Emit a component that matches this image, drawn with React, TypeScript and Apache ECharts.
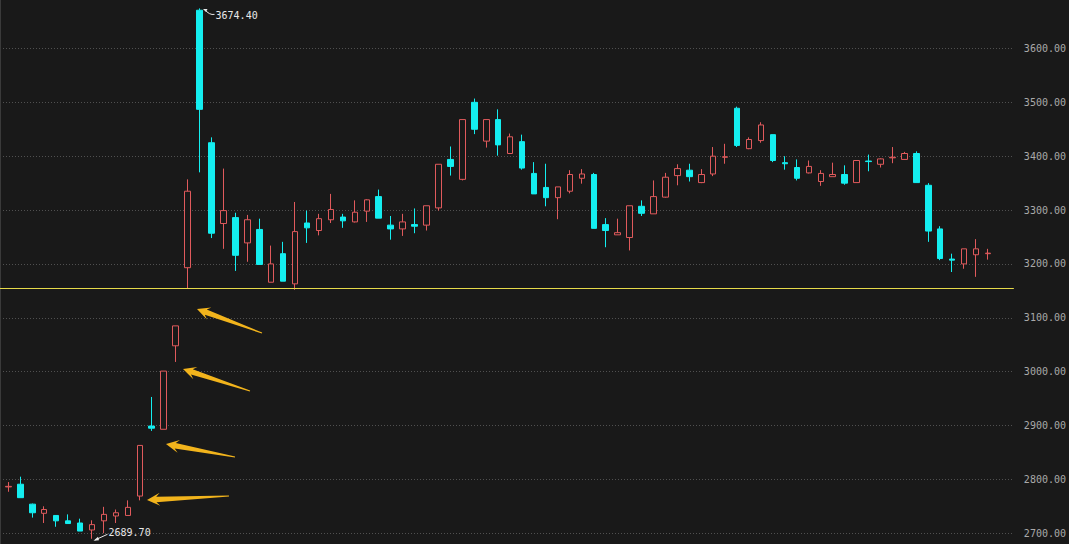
import React, { useEffect, useRef } from "react";
import * as echarts from "echarts";

// OHLC values (index order = time order)
const openValues = [
  2786, 2791, 2754, 2737, 2733, 2723, 2719, 2706, 2723, 2732,
  2733, 2769, 2899, 2893, 3048, 3193, 3671, 3425, 3275, 3286,
  3239, 3264, 3166, 3219, 3163, 3276, 3262, 3282, 3287, 3278,
  3298, 3325, 3272, 3265, 3273, 3272, 3304, 3394, 3357, 3500,
  3428, 3468, 3405, 3427, 3368, 3342, 3323, 3335, 3359, 3366,
  3273, 3254, 3249, 3307, 3293, 3324, 3364, 3374, 3351, 3367,
  3398, 3489, 3414, 3429, 3440, 3388, 3379, 3369, 3353, 3362,
  3366, 3351, 3391, 3385, 3397, 3394, 3405, 3346, 3265, 3209,
  3200, 3217, 3219,
];
const closeValues = [
  2787, 2766, 2738, 2744, 2723, 2718, 2704, 2716, 2735, 2738,
  2748, 2863, 2895, 3001, 3085, 3335, 3487, 3257, 3299, 3216,
  3282, 3199, 3200, 3168, 3260, 3267, 3284, 3301, 3280, 3296,
  3319, 3285, 3265, 3278, 3270, 3308, 3385, 3381, 3468, 3450,
  3468, 3421, 3436, 3378, 3330, 3323, 3343, 3366, 3367, 3266,
  3262, 3258, 3308, 3294, 3325, 3361, 3377, 3362, 3366, 3400,
  3399, 3420, 3431, 3458, 3392, 3386, 3359, 3381, 3368, 3366,
  3350, 3392, 3390, 3395, 3398, 3405, 3351, 3261, 3210, 3207,
  3228, 3228, 3220,
];
const lowValues = [
  2777, 2766, 2729, 2719, 2712, 2718, 2704, 2689.7, 2700, 2719,
  2733, 2761, 2890, 2893, 3018, 3155, 3370, 3248, 3228, 3187,
  3204, 3199, 3166, 3168, 3152, 3239, 3253, 3276, 3267, 3277,
  3278, 3285, 3245, 3252, 3257, 3262, 3299, 3364, 3355, 3441,
  3416, 3401, 3404, 3375, 3330, 3307, 3283, 3331, 3349, 3266,
  3231, 3254, 3225, 3289, 3293, 3323, 3346, 3353, 3350, 3363,
  3386, 3417, 3413, 3425, 3389, 3375, 3355, 3368, 3345, 3362,
  3347, 3351, 3372, 3379, 3387, 3394, 3351, 3241, 3207, 3185,
  3191, 3176, 3208,
];
const highValues = [
  2795, 2805, 2755, 2750, 2733, 2735, 2727, 2724, 2749, 2744,
  2761, 2863, 2953, 3001, 3085, 3357, 3674.4, 3435, 3377, 3295,
  3291, 3284, 3234, 3241, 3315, 3299, 3293, 3330, 3293, 3318,
  3320, 3338, 3289, 3293, 3303, 3308, 3385, 3418, 3468, 3507,
  3468, 3487, 3442, 3440, 3389, 3386, 3343, 3374, 3376, 3369,
  3285, 3284, 3308, 3318, 3355, 3369, 3385, 3386, 3376, 3417,
  3423, 3492, 3435, 3463, 3440, 3400, 3394, 3392, 3374, 3388,
  3383, 3392, 3403, 3396, 3417, 3408, 3409, 3350, 3270, 3219,
  3228, 3246, 3228,
];
const categories = openValues.map((_, i) => String(i + 1));
const gapLevel = 3155;
const yMin = 2680;
const yMax = 3690;

const BG = "#191919";
const UP = "#e05a5c";
const DOWN = "#14eef0";
const ARROW = "#f2b41c";
const FONT = '"DejaVu Sans Mono", "Liberation Mono", monospace';

// annotation arrows (tip, tail) pointing at the gaps
const gapArrows: [number, number, number, number][] = [
  [197, 309, 262, 333],
  [183, 369, 250, 391],
  [166, 444, 235, 457],
  [147, 500, 229, 496],
];

function arrowPoints(tx: number, ty: number, ex: number, ey: number) {
  const dx = ex - tx, dy = ey - ty;
  const len = Math.hypot(dx, dy);
  const ux = dx / len, uy = dy / len;
  const nx = -uy, ny = ux;
  const p = (a: number, b: number) => [tx + ux * a + nx * b, ty + uy * a + ny * b];
  const headLen = 13, headHalf = 6.5, neckHalf = 2.8, tailHalf = 0.5;
  return [
    p(0, 0),
    p(headLen, headHalf),
    p(headLen * 0.72, neckHalf),
    [ex + nx * tailHalf, ey + ny * tailHalf],
    [ex - nx * tailHalf, ey - ny * tailHalf],
    p(headLen * 0.72, -neckHalf),
    p(headLen, -headHalf),
  ];
}

export default function App() {
  const ref = useRef<HTMLDivElement>(null);
  useEffect(() => {
    document.body.style.margin = "0";
    document.body.style.background = BG;
    const chart = echarts.init(ref.current!, null, { renderer: "svg" });
    const candleData = openValues.map((o, i) => [o, closeValues[i], lowValues[i], highValues[i]]);
    chart.setOption({
      animation: false,
      backgroundColor: BG,
      grid: [
        { left: 2.4, top: 0, width: 991.6, bottom: 0 },
        { left: 0, top: 0, right: 55, bottom: 0 },
      ],
      xAxis: [
        { type: "category", gridIndex: 0, data: categories, boundaryGap: true, show: false },
        { type: "value", gridIndex: 1, min: 0, max: 1, show: false },
      ],
      yAxis: [
        { type: "value", gridIndex: 0, min: yMin, max: yMax, show: false, splitLine: { show: false } },
        {
          type: "value",
          gridIndex: 1,
          position: "right",
          min: yMin,
          max: yMax,
          splitNumber: 10,
          axisLine: { show: true, lineStyle: { color: "#3a3a3a", width: 1 } },
          axisTick: { show: false },
          axisLabel: {
            color: "#a9a9a9",
            fontFamily: FONT,
            fontSize: 10,
            margin: 10,
            formatter: (v: number) => (Math.abs(v % 100) < 1e-6 ? v.toFixed(2) : ""),
          },
          splitLine: {
            show: true,
            showMinLine: false,
            showMaxLine: false,
            lineStyle: { color: "#505050", type: [1, 2], width: 1 },
          },
        },
      ],
      series: [
        {
          type: "candlestick",
          xAxisIndex: 0,
          yAxisIndex: 0,
          data: candleData,
          barWidth: 6,
          itemStyle: {
            color: BG,
            color0: DOWN,
            borderColor: UP,
            borderColor0: DOWN,
            borderWidth: 1,
          },
          z: 3,
        },
        {
          type: "line",
          xAxisIndex: 1,
          yAxisIndex: 1,
          data: [],
          markLine: {
            silent: true,
            symbol: ["none", "none"],
            label: { show: false },
            lineStyle: { color: "#e6da4a", width: 1, type: "solid" },
            data: [{ yAxis: gapLevel }],
          },
          z: 4,
        },
      ],
    });

    const hiIdx = highValues.indexOf(Math.max(...highValues));
    const loIdx = lowValues.indexOf(Math.min(...lowValues));
    const hp = chart.convertToPixel({ seriesIndex: 0 }, [hiIdx, highValues[hiIdx]]) as number[];
    const lp = chart.convertToPixel({ seriesIndex: 0 }, [loIdx, lowValues[loIdx]]) as number[];
    const white = "#e8e8e8";

    const graphics: any[] = [];
    // high label
    graphics.push({
      type: "text",
      x: hp[0] + 16,
      y: hp[1] + 7,
      z: 10,
      style: { text: highValues[hiIdx].toFixed(2), fill: white, font: `10px ${FONT}`, align: "left", verticalAlign: "middle" },
    });
    graphics.push({
      type: "bezierCurve",
      z: 10,
      shape: { x1: hp[0] + 15, y1: hp[1] + 6, x2: hp[0] + 5, y2: hp[1] + 1, cpx1: hp[0] + 10, cpy1: hp[1] + 7 },
      style: { stroke: white, lineWidth: 1, fill: "none" },
    });
    graphics.push({
      type: "polygon",
      z: 10,
      shape: { points: [[hp[0] + 3.5, hp[1] + 0.5], [hp[0] + 8, hp[1] + 0.5], [hp[0] + 6.5, hp[1] + 3.5]] },
      style: { fill: white },
    });
    // low label
    graphics.push({
      type: "text",
      x: lp[0] + 16.5,
      y: lp[1] - 6.5,
      z: 10,
      style: { text: lowValues[loIdx].toFixed(2), fill: white, font: `10px ${FONT}`, align: "left", verticalAlign: "middle" },
    });
    graphics.push({
      type: "line",
      z: 10,
      shape: { x1: lp[0] + 15.5, y1: lp[1] - 4.5, x2: lp[0] + 3, y2: lp[1] + 1.2 },
      style: { stroke: white, lineWidth: 1 },
    });
    graphics.push({
      type: "polygon",
      z: 10,
      shape: { points: [[lp[0] + 1.5, lp[1] + 2], [lp[0] + 6, lp[1] - 2], [lp[0] + 7, lp[1] + 1.5]] },
      style: { fill: white },
    });
    // gap arrows
    gapArrows.forEach(([tx, ty, ex, ey]) => {
      graphics.push({
        type: "polygon",
        z: 11,
        shape: { points: arrowPoints(tx, ty, ex, ey) },
        style: { fill: ARROW },
      });
    });
    chart.setOption({ graphic: graphics });

    return () => chart.dispose();
  }, []);

  return (
    <div
      ref={ref}
      style={{ position: "fixed", left: 0, top: 0, width: 1069, height: 544, background: BG }}
    />
  );
}
